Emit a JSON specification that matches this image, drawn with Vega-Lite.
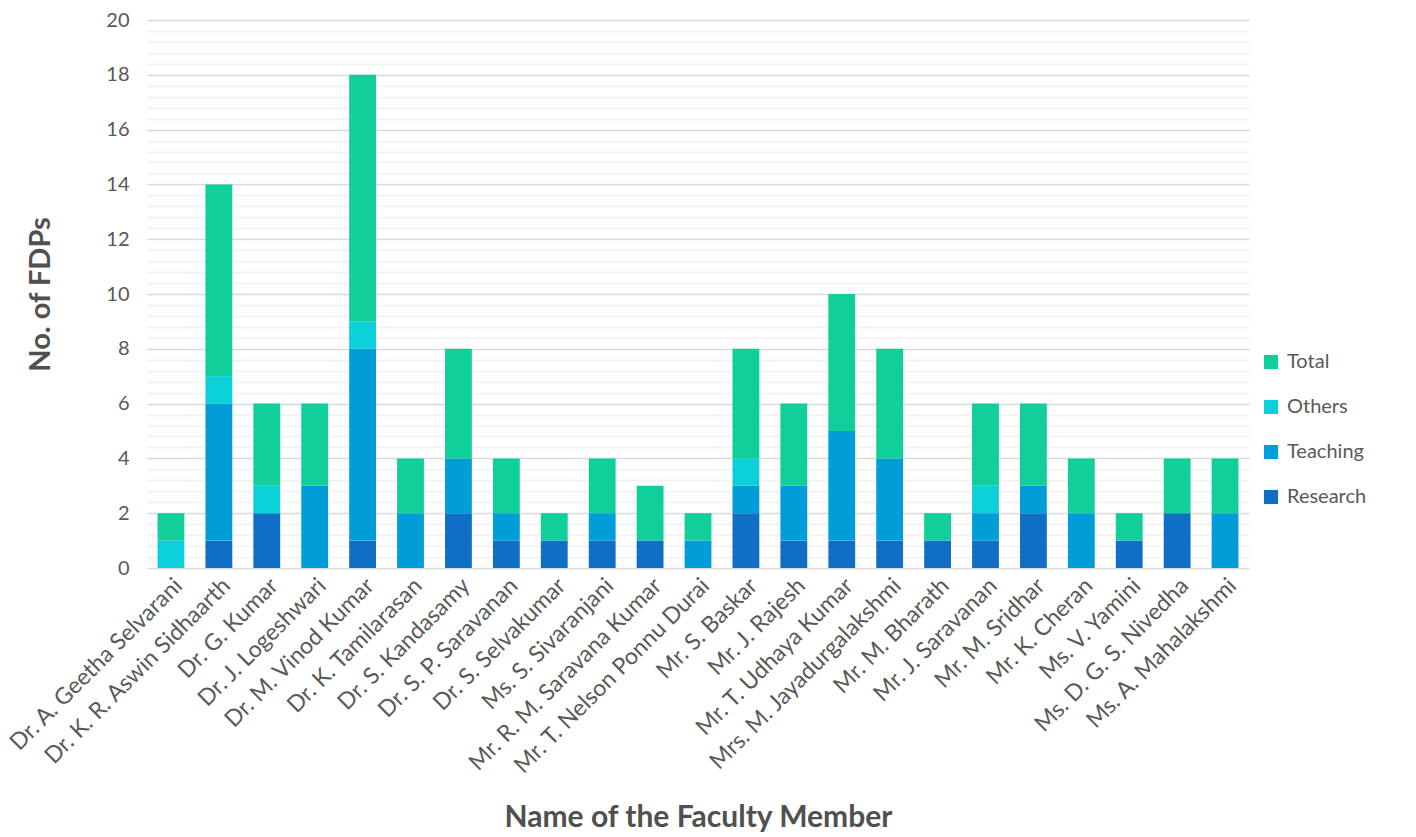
{
  "$schema": "https://vega.github.io/schema/vega-lite/v6.json",
  "width": 1102,
  "height": 548,
  "padding": {"left": 5, "top": 10, "right": 5, "bottom": 5},
  "background": "white",
  "config": {
    "view": {"stroke": null},
    "font": "Lato"
  },
  "data": {
    "values": [
      {"name": "Dr. A. Geetha Selvarani", "Research": 0, "Teaching": 0, "Others": 1, "Total": 1},
      {"name": "Dr. K. R. Aswin Sidhaarth", "Research": 1, "Teaching": 5, "Others": 1, "Total": 7},
      {"name": "Dr. G. Kumar", "Research": 2, "Teaching": 0, "Others": 1, "Total": 3},
      {"name": "Dr. J. Logeshwari", "Research": 0, "Teaching": 3, "Others": 0, "Total": 3},
      {"name": "Dr. M. Vinod Kumar", "Research": 1, "Teaching": 7, "Others": 1, "Total": 9},
      {"name": "Dr. K. Tamilarasan", "Research": 0, "Teaching": 2, "Others": 0, "Total": 2},
      {"name": "Dr. S. Kandasamy", "Research": 2, "Teaching": 2, "Others": 0, "Total": 4},
      {"name": "Dr. S. P. Saravanan", "Research": 1, "Teaching": 1, "Others": 0, "Total": 2},
      {"name": "Dr. S. Selvakumar", "Research": 1, "Teaching": 0, "Others": 0, "Total": 1},
      {"name": "Ms. S. Sivaranjani", "Research": 1, "Teaching": 1, "Others": 0, "Total": 2},
      {"name": "Mr. R. M. Saravana Kumar", "Research": 1, "Teaching": 0, "Others": 0, "Total": 2},
      {"name": "Mr. T. Nelson Ponnu Durai", "Research": 0, "Teaching": 1, "Others": 0, "Total": 1},
      {"name": "Mr. S. Baskar", "Research": 2, "Teaching": 1, "Others": 1, "Total": 4},
      {"name": "Mr. J. Rajesh", "Research": 1, "Teaching": 2, "Others": 0, "Total": 3},
      {"name": "Mr. T. Udhaya Kumar", "Research": 1, "Teaching": 4, "Others": 0, "Total": 5},
      {"name": "Mrs. M. Jayadurgalakshmi", "Research": 1, "Teaching": 3, "Others": 0, "Total": 4},
      {"name": "Mr. M. Bharath", "Research": 1, "Teaching": 0, "Others": 0, "Total": 1},
      {"name": "Mr. J. Saravanan", "Research": 1, "Teaching": 1, "Others": 1, "Total": 3},
      {"name": "Mr. M. Sridhar", "Research": 2, "Teaching": 1, "Others": 0, "Total": 3},
      {"name": "Mr. K. Cheran", "Research": 0, "Teaching": 2, "Others": 0, "Total": 2},
      {"name": "Ms. V. Yamini", "Research": 1, "Teaching": 0, "Others": 0, "Total": 1},
      {"name": "Ms. D. G. S. Nivedha", "Research": 2, "Teaching": 0, "Others": 0, "Total": 2},
      {"name": "Ms. A. Mahalakshmi", "Research": 0, "Teaching": 2, "Others": 0, "Total": 2}
    ]
  },
  "transform": [
    {"fold": ["Research", "Teaching", "Others", "Total"], "as": ["series", "value"]},
    {"calculate": "indexof(['Research', 'Teaching', 'Others', 'Total'], datum.series)", "as": "stackOrder"}
  ],
  "encoding": {
    "x": {"field": "name", "type": "nominal", "sort": null,
          "scale": {"paddingInner": 0.44, "paddingOuter": 0.22},
          "axis": {"title": "Name of the Faculty Member", "labelAngle": -45,
                   "labelFontSize": 23, "labelColor": "#595959", "labelPadding": 6,
                   "ticks": false, "domain": false, "labelLimit": 400,
                   "titleFontSize": 30, "titleFontWeight": "bold", "titleColor": "#505050",
                   "titlePadding": 34}}
  },
  "resolve": {"axis": {"y": "independent"}},
  "layer": [
    {
      "mark": {"type": "bar", "opacity": 0},
      "encoding": {
        "y": {"field": "value", "type": "quantitative", "stack": "zero",
              "scale": {"domain": [0, 20], "nice": false},
              "axis": {"orient": "right", "values": [0.4,0.8,1.2,1.6,2.4,2.8,3.2,3.6,4.4,4.8,5.2,5.6,6.4,6.8,7.2,7.6,8.4,8.8,9.2,9.6,10.4,10.8,11.2,11.6,12.4,12.8,13.2,13.6,14.4,14.8,15.2,15.6,16.4,16.8,17.2,17.6,18.4,18.8,19.2,19.6],
                       "grid": true, "gridColor": "#f0f0f0", "gridWidth": 1.5,
                       "labels": false, "ticks": false, "domain": false, "title": null}},
        "order": {"field": "stackOrder", "type": "quantitative"},
        "detail": {"field": "series"}
      }
    },
    {
      "mark": {"type": "bar"},
      "encoding": {
        "y": {"field": "value", "type": "quantitative", "stack": "zero",
              "scale": {"domain": [0, 20], "nice": false},
              "axis": {"orient": "left", "values": [0,2,4,6,8,10,12,14,16,18,20],
                       "grid": true, "gridColor": "#d9d9d9", "gridWidth": 1.5,
                       "ticks": false, "domain": false,
                       "labelFontSize": 20, "labelColor": "#595959", "labelPadding": 18,
                       "title": "No. of FDPs", "titleFontSize": 29, "titleFontWeight": "bold",
                       "titleColor": "#505050", "titlePadding": 50}},
        "order": {"field": "stackOrder", "type": "quantitative"},
        "color": {"field": "series", "type": "nominal",
                  "sort": ["Research", "Teaching", "Others", "Total"],
                  "scale": {"domain": ["Research", "Teaching", "Others", "Total"],
                            "range": ["#0F6FC6", "#009DD9", "#0BD0D9", "#10CF9B"]},
                  "legend": {"title": null, "orient": "none", "legendX": 1114, "legendY": 332,
                             "values": ["Total", "Others", "Teaching", "Research"],
                             "symbolType": "square", "symbolSize": 200, "symbolStrokeWidth": 0,
                             "labelFontSize": 20, "labelColor": "#595959", "rowPadding": 25,
                             "labelOffset": 6}}
      }
    }
  ]
}
